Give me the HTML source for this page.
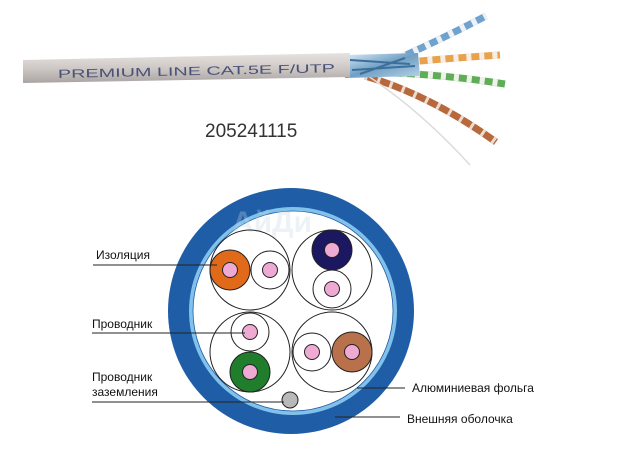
<!DOCTYPE html>
<html><head><meta charset="utf-8"><style>
html,body{margin:0;padding:0;background:#fff;}
svg{display:block;}
text{font-family:"Liberation Sans",sans-serif;}
</style></head><body>
<svg width="635" height="459" viewBox="0 0 635 459" xmlns="http://www.w3.org/2000/svg">
<defs>
<linearGradient id="sh" x1="0" y1="0" x2="0" y2="1">
<stop offset="0" stop-color="#e6e2df"/><stop offset="0.5" stop-color="#cfc9c6"/><stop offset="1" stop-color="#a9a4a2"/>
</linearGradient>
<linearGradient id="fo" x1="0" y1="0" x2="1" y2="1">
<stop offset="0" stop-color="#dfeef8"/><stop offset="0.5" stop-color="#6f9fc4"/><stop offset="1" stop-color="#b9d4e8"/>
</linearGradient>
</defs>
<g fill="none" stroke-linecap="butt">
<path d="M390 62 Q430 45 486 16" stroke="#6fa3cf" stroke-width="7"/>
<path d="M390 62 Q430 45 486 16" stroke="#eef2f5" stroke-width="7" stroke-dasharray="5 8"/>
<path d="M350 68 Q420 60 500 55" stroke="#e8a24c" stroke-width="7"/>
<path d="M350 68 Q420 60 500 55" stroke="#f4eee6" stroke-width="7" stroke-dasharray="5 8"/>
<path d="M350 72 Q430 72 505 84" stroke="#5fae57" stroke-width="7"/>
<path d="M350 72 Q430 72 505 84" stroke="#eef2ea" stroke-width="7" stroke-dasharray="5 8"/>
<path d="M365 76 Q430 95 496 142" stroke="#b8693c" stroke-width="7"/>
<path d="M365 76 Q430 95 496 142" stroke="#eadcd2" stroke-width="7" stroke-dasharray="3 10"/>
<path d="M365 74 Q420 110 470 165" stroke="#dcdcdc" stroke-width="1.5"/>
</g>
<polygon points="345,55 418,53 420,76 345,78" fill="url(#fo)"/>
<path d="M350 60 L410 64 M352 70 L415 66 M360 74 L405 58" stroke="#3d6f9a" stroke-width="2" fill="none"/>
<polygon points="23,60 350,53 350,77 23,83" fill="url(#sh)"/>
<text x="58" y="78" font-family="Liberation Mono,monospace" font-size="12" fill="#4a5278" textLength="277" lengthAdjust="spacingAndGlyphs" transform="rotate(-1.2 58 78)">PREMIUM LINE CAT.5E F/UTP</text>
<text x="205" y="137" font-size="19" fill="#333">205241115</text>

<circle cx="291" cy="311" r="123" fill="#1f5ea7"/>
<circle cx="293" cy="311" r="104" fill="#82c1ea"/>
<circle cx="293" cy="311" r="100" fill="#fff" stroke="#1f5ea7" stroke-width="0.8"/>
<text x="232" y="232" font-size="30" font-weight="bold" fill="#c7d6e6" opacity="0.3">АйДи</text>
<g fill="none" stroke="#222" stroke-width="1">
<circle cx="250" cy="270" r="40"/><circle cx="332" cy="270" r="40"/>
<circle cx="250" cy="352" r="40"/><circle cx="332" cy="352" r="40"/>
</g>
<g stroke="#222" stroke-width="1">
<circle cx="230" cy="270" r="20" fill="#e06a1a"/><circle cx="270" cy="270" r="19" fill="#fff"/>
<circle cx="332" cy="250" r="20" fill="#1b1760"/><circle cx="332" cy="289" r="19" fill="#fff"/>
<circle cx="250" cy="332" r="19" fill="#fff"/><circle cx="250" cy="372" r="20" fill="#1f7d2c"/>
<circle cx="312" cy="352" r="19" fill="#fff"/><circle cx="352" cy="352" r="20" fill="#b8714a"/>
<circle cx="290" cy="400" r="8" fill="#b9b9b9"/>
</g>
<g fill="#eeaad2" stroke="#222" stroke-width="1">
<circle cx="230" cy="270" r="7.5"/><circle cx="270" cy="270" r="7.5"/>
<circle cx="332" cy="250" r="7.5"/><circle cx="332" cy="289" r="7.5"/>
<circle cx="250" cy="332" r="7.5"/><circle cx="250" cy="372" r="7.5"/>
<circle cx="312" cy="352" r="7.5"/><circle cx="352" cy="352" r="7.5"/>
</g>
<g stroke="#222" stroke-width="1">
<line x1="93" y1="265" x2="217" y2="265"/>
<line x1="92" y1="333" x2="245" y2="333"/>
<line x1="92" y1="402" x2="284" y2="402"/>
<line x1="357" y1="388" x2="405" y2="388"/>
<line x1="335" y1="417" x2="400" y2="417"/>
</g>
<g font-size="12" fill="#111">
<text x="96" y="259">Изоляция</text>
<text x="92" y="328">Проводник</text>
<text x="92" y="381">Проводник</text>
<text x="92" y="396">заземления</text>
<text x="412" y="392">Алюминиевая фольга</text>
<text x="407" y="423">Внешняя оболочка</text>
</g>
</svg>
</body></html>
